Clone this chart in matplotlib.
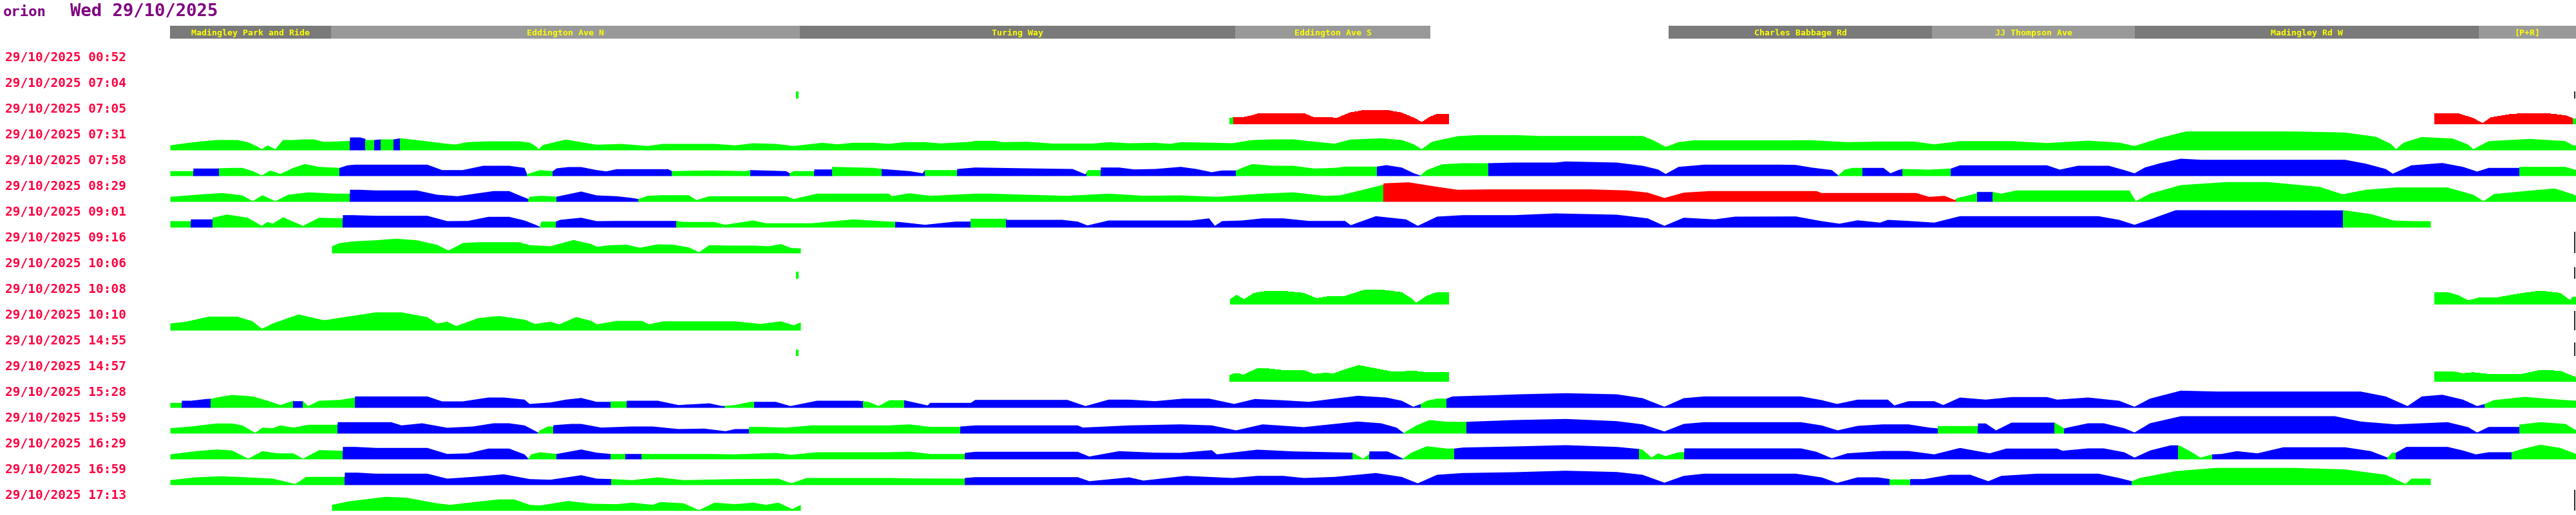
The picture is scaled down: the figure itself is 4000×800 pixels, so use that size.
import numpy as np
import matplotlib.pyplot as plt
from matplotlib.patches import Rectangle

nan = np.nan

title_name = 'orion'
title_day = 'Wed 29/10/2025'

# road sections along the route (distance units, 0 = start of the route)
seg_names = ['Madingley Park and Ride', 'Eddington Ave N', 'Turing Way', 'Eddington Ave S',
             'Charles Babbage Rd', 'JJ Thompson Ave', 'Madingley Rd W', '[P+R]']
seg_start = [0, 250, 978, 1654, 2327, 2736, 3051, 3585]
seg_end = [250, 978, 1654, 1957, 2736, 3051, 3585, 3736]
route_len = 3736

run_times = ['29/10/2025 00:52', '29/10/2025 07:04', '29/10/2025 07:05', '29/10/2025 07:31',
             '29/10/2025 07:58', '29/10/2025 08:29', '29/10/2025 09:01', '29/10/2025 09:16',
             '29/10/2025 10:06', '29/10/2025 10:08', '29/10/2025 10:10', '29/10/2025 14:55',
             '29/10/2025 14:57', '29/10/2025 15:28', '29/10/2025 15:59', '29/10/2025 16:29',
             '29/10/2025 16:59', '29/10/2025 17:13']

# speed profile of each run: (distance, speed) samples, and coloured runs (start, end, status)
p_0052 = []
r_0052 = []

p_0704 = [(972, 11), (976, 11)]
r_0704 = [(972, 976, 'g')]

p_0705 = [(1645, 9.3), (1651, 10.3), (1665, 10.3), (1680, 13.3), (1692, 17), (1760, 17), (1776, 10.3),
          (1784, 10.7), (1800, 10.7), (1812, 9.3), (1832, 17.7), (1856, 22), (1888, 22), (1912, 17.7),
          (1932, 9.3), (1944, 2.7), (1956, 11), (1968, 15.7), (1986, 15.7), (2500, nan),
          (3516, 16.7), (3552, 16.7), (3576, 9.3), (3591, 1), (3604, 10.3), (3632, 15), (3656, 17),
          (3688, 17), (3720, 13.3), (3731, 9), (3736, 9)]
r_0705 = [(1645, 1651, 'g'), (1651, 1986, 'r'), (3516, 3731, 'r'), (3731, 3736, 'g')]

p_0731 = [(0, 7.7), (16, 10), (40, 13), (72, 16), (104, 16), (120, 12.7), (135, 6), (142, 1.7), (151, 7.7),
          (163, 1.7), (175, 16), (191, 16), (207, 17), (223, 17), (239, 13), (263, 14), (279, 14.7),
          (279, 20), (295, 20), (303, 17.7), (303, 16), (317, 16), (327, 17), (347, 17), (357, 18.7),
          (399, 14), (422, 11), (442, 9), (462, 12.7), (494, 14), (542, 14), (558, 12), (568, 6),
          (572, 1.7), (578, 8), (590, 11), (614, 16.7), (638, 12.7), (662, 8.7), (701, 10), (741, 6.7),
          (765, 10), (845, 10), (877, 7.7), (905, 11), (940, 10), (968, 6.7), (1012, 11.7), (1036, 9.3),
          (1060, 11.7), (1092, 11.7), (1116, 10), (1140, 12.7), (1172, 12.7), (1196, 10.7), (1243, 13.3),
          (1250, 14.7), (1282, 14.7), (1290, 12.7), (1330, 13.3), (1370, 10.5), (1433, 10.5), (1457, 12.7),
          (1489, 11), (1529, 11.7), (1553, 10), (1569, 12.7), (1609, 12), (1649, 11), (1680, 16),
          (1712, 17), (1744, 17), (1768, 14.3), (1808, 10.3), (1832, 16.7), (1880, 18.7), (1912, 16),
          (1931, 9.3), (1943, 1.7), (1959, 13.3), (1999, 22), (2031, 23.7), (2087, 23.7), (2127, 22.3),
          (2286, 22.3), (2302, 16), (2322, 5.3), (2342, 12.7), (2366, 15.5), (2500, 15.5), (2548, 15.7),
          (2604, 12.7), (2659, 13.7), (2707, 13.7), (2739, 9.3), (2779, 14.3), (2859, 14.3), (2914, 11.3),
          (2978, 15), (3026, 12), (3050, 6.7), (3090, 19.3), (3130, 29.3), (3297, 29.3), (3377, 27.7),
          (3425, 21), (3448, 10), (3456, 1.7), (3468, 12), (3496, 20.7), (3544, 18.3), (3568, 9),
          (3576, 1.7), (3600, 14.3), (3664, 17.7), (3719, 14.3), (3731, 7.7), (3736, 7.7)]
r_0731 = [(0, 279, 'g'), (279, 303, 'b'), (303, 317, 'g'), (317, 327, 'b'), (327, 347, 'g'),
          (347, 357, 'b'), (357, 3736, 'g')]

p_0758 = [(0, 7.7), (36, 7.7), (36, 11.7), (76, 11.7), (76, 12), (96, 12.7), (112, 12.7), (128, 7.7),
          (142, 1), (155, 8.7), (171, 3.3), (191, 12.7), (209, 18.7), (231, 14.3), (263, 12.7), (275, 16.7),
          (287, 17.7), (399, 17.7), (422, 9.3), (454, 9.3), (486, 16), (526, 16), (550, 12.7), (554, 2.7),
          (558, 4.3), (574, 9.3), (594, 7.7), (600, 12), (618, 14), (638, 14), (662, 9.3), (677, 7.3),
          (693, 10.7), (773, 10.7), (779, 7.7), (837, 8.7), (893, 7.7), (901, 9.3), (956, 7.7), (962, 4.3),
          (968, 7.7), (1000, 7.7), (1000, 10.3), (1028, 10.3), (1028, 14.3), (1092, 12.7), (1105, 11),
          (1148, 7.7), (1168, 4.3), (1172, 9.3), (1222, 9.3), (1222, 11), (1250, 13.3), (1330, 12),
          (1401, 11), (1421, 2.7), (1425, 9.3), (1445, 9.3), (1445, 13.3), (1473, 13.3), (1497, 10.3),
          (1529, 11), (1569, 14.3), (1593, 11), (1617, 6), (1633, 8.7), (1655, 8.7), (1664, 12.7),
          (1680, 18.7), (1712, 16), (1744, 16), (1776, 11.7), (1808, 12.7), (1824, 14.7), (1874, 14.7),
          (1888, 17), (1912, 13.3), (1931, 4.3), (1941, 1), (1951, 9.3), (1975, 18.3), (2007, 20),
          (2047, 20), (2087, 21), (2151, 21), (2167, 22.7), (2246, 21), (2286, 16), (2310, 10.3),
          (2322, 3.3), (2342, 14.3), (2382, 17.7), (2500, 17.7), (2524, 17.3), (2548, 13.3), (2580, 9.3),
          (2590, 1), (2600, 10), (2612, 12.7), (2660, 12.7), (2671, 4.3), (2683, 9.3), (2690, 11),
          (2731, 10), (2765, 11.7), (2779, 16.7), (2914, 16.7), (2934, 10), (2962, 16), (3010, 16),
          (3034, 9.3), (3050, 4.3), (3066, 13.3), (3090, 20), (3122, 27), (3154, 25.3), (3377, 25.3),
          (3409, 19.3), (3440, 11), (3451, 3.7), (3480, 16.7), (3528, 20.3), (3560, 14.3), (3582, 7),
          (3600, 12.7), (3648, 12.7), (3648, 14.3), (3719, 14.3), (3736, 9.3)]
r_0758 = [(0, 36, 'g'), (36, 76, 'b'), (76, 263, 'g'), (263, 554, 'b'), (554, 594, 'g'), (594, 779, 'b'),
          (779, 901, 'g'), (901, 962, 'b'), (962, 1000, 'g'), (1000, 1028, 'b'), (1028, 1105, 'g'),
          (1105, 1172, 'b'), (1172, 1222, 'g'), (1222, 1423, 'b'), (1423, 1445, 'g'), (1445, 1655, 'b'),
          (1655, 1874, 'g'), (1874, 1941, 'b'), (1941, 2047, 'g'), (2047, 2590, 'b'), (2590, 2628, 'g'),
          (2628, 2690, 'b'), (2690, 2765, 'g'), (2765, 3648, 'b'), (3648, 3736, 'g')]

p_0829 = [(0, 7.7), (40, 11), (80, 13.7), (112, 10), (128, 1), (143, 10.3), (163, 1), (183, 11), (215, 14.7),
          (255, 12.7), (279, 12.7), (279, 18.7), (295, 18.7), (319, 17.7), (383, 17.7), (414, 11),
          (446, 8.7), (478, 13.3), (502, 16.7), (526, 16.7), (542, 10), (556, 4.3), (558, 7.7), (574, 9.3),
          (590, 8.7), (600, 8), (638, 16), (662, 10), (693, 8.7), (717, 6), (727, 4.3), (741, 9.3),
          (765, 10.3), (805, 10.3), (817, 2.7), (837, 8.7), (956, 8.7), (968, 4.3), (1004, 12.7),
          (1116, 12.7), (1120, 8.7), (1148, 13.3), (1180, 9.3), (1250, 12.7), (1274, 12.7), (1330, 11),
          (1393, 9.3), (1457, 12.7), (1513, 9.3), (1569, 10), (1625, 7.7), (1696, 12.7), (1744, 14.7),
          (1792, 9.3), (1816, 10), (1848, 17.7), (1884, 26.7), (1884, 28.7), (1923, 30.3), (1967, 23.3),
          (1999, 18.7), (2047, 19.3), (2206, 19.3), (2262, 17.7), (2294, 14.3), (2320, 6), (2350, 14.3),
          (2390, 16.7), (2556, 16.7), (2564, 13.7), (2711, 13.7), (2731, 7.7), (2755, 9.3), (2771, 2.7),
          (2775, 6), (2783, 7.7), (2803, 12.7), (2806, 15.3), (2830, 15.3), (2843, 12.7), (2867, 17.7),
          (3042, 17.7), (3052, 1), (3074, 12.7), (3122, 26), (3193, 30.7), (3257, 30.7), (3337, 23.3),
          (3373, 11.7), (3409, 18.7), (3456, 22.3), (3536, 22.3), (3576, 11), (3592, 1), (3608, 12),
          (3656, 16.7), (3703, 20.7), (3733, 11), (3736, 9)]
r_0829 = [(0, 279, 'g'), (279, 556, 'b'), (556, 600, 'g'), (600, 727, 'b'), (727, 1884, 'g'),
          (1884, 2773, 'r'), (2773, 2806, 'g'), (2806, 2830, 'b'), (2830, 3736, 'g')]

p_0901 = [(0, 10), (32, 10), (32, 12.7), (66, 12.7), (66, 15.3), (88, 20.3), (120, 15.3), (142, 2.7),
          (151, 8.7), (159, 6), (175, 16), (206, 2.7), (231, 15.3), (268, 14.3), (268, 19.3), (283, 19.3),
          (319, 18.3), (399, 18.3), (430, 10), (462, 10.3), (494, 16.7), (526, 16.7), (550, 11), (568, 4),
          (574, 1), (576, 9.3), (599, 9.3), (605, 12), (638, 15.3), (662, 10), (693, 10.3), (786, 10.3),
          (797, 8.7), (845, 8.7), (861, 4.3), (905, 11), (925, 6.7), (996, 6.7), (1060, 12.7), (1116, 9.3),
          (1132, 8.7), (1172, 4.3), (1219, 9.3), (1243, 9.3), (1243, 13.7), (1298, 13.7), (1298, 12),
          (1385, 12), (1409, 9.3), (1424, 3.3), (1457, 11), (1585, 11), (1613, 14.3), (1622, 2.7),
          (1633, 10), (1664, 11), (1696, 14.3), (1728, 14.3), (1768, 10.3), (1824, 10.3), (1833, 3.7),
          (1872, 17.7), (1919, 12.7), (1937, 2.7), (1967, 17), (2007, 19.3), (2087, 19.3), (2151, 22),
          (2246, 20), (2294, 14.3), (2320, 2.7), (2350, 15.3), (2398, 12.7), (2430, 17), (2524, 17.3),
          (2564, 10), (2592, 6), (2620, 11.3), (2655, 7.7), (2667, 12), (2699, 10.3), (2739, 7.7),
          (2779, 17.7), (2994, 17.7), (3026, 12), (3050, 4.3), (3074, 12.7), (3114, 27), (3377, 26.7),
          (3417, 21), (3452, 11), (3480, 10), (3510, 10)]
r_0901 = [(0, 32, 'g'), (32, 66, 'b'), (66, 268, 'g'), (268, 574, 'b'), (574, 599, 'g'), (599, 786, 'b'),
          (786, 1126, 'g'), (1126, 1243, 'b'), (1243, 1298, 'g'), (1298, 3374, 'b'), (3374, 3510, 'g')]

p_0916 = [(251, 11), (263, 16), (287, 18.7), (319, 20.3), (351, 22.7), (383, 20.3), (414, 13.3), (432, 4.3),
          (454, 16), (478, 17.3), (542, 17.3), (558, 12.7), (590, 11), (626, 20.7), (654, 14.3),
          (662, 10.3), (685, 12.7), (709, 13.3), (729, 8.7), (757, 14), (781, 13.3), (805, 9.3), (821, 1.7),
          (837, 12.7), (869, 12), (909, 12), (929, 11), (948, 14.3), (964, 8.3), (979, 7.7)]
r_0916 = [(251, 979, 'g')]

p_1006 = [(972, 11), (976, 11)]
r_1006 = [(972, 976, 'g')]

p_1008 = [(1646, 7.7), (1656, 14.3), (1668, 7.7), (1684, 17.7), (1704, 20.7), (1728, 20.7), (1760, 17.7),
          (1780, 9.3), (1800, 12.7), (1824, 12.7), (1856, 22.7), (1880, 22.7), (1912, 18.7), (1927, 9.3),
          (1935, 2), (1951, 12.7), (1967, 18.7), (1986, 18.7), (2500, nan), (3516, 18.7), (3536, 18.7),
          (3552, 14.3), (3568, 6), (3588, 11), (3616, 11), (3648, 16.7), (3680, 21), (3711, 17.7),
          (3727, 6), (3731, 11.7), (3736, 11.7)]
r_1008 = [(1646, 1986, 'g'), (3516, 3736, 'g')]

p_1010 = [(0, 11), (24, 13.7), (60, 21.7), (104, 21.7), (128, 14.3), (142, 2.7), (159, 11), (199, 25),
          (239, 16), (271, 21), (319, 28.3), (359, 28.3), (399, 21), (414, 11), (430, 13.7), (444, 7),
          (478, 19.3), (510, 22.7), (550, 17), (566, 10.3), (590, 13.7), (604, 9.7), (630, 21), (654, 15),
          (662, 9.7), (693, 15), (733, 15), (743, 9.7), (765, 14.3), (877, 14.3), (917, 10.3), (948, 14.3),
          (968, 8.3), (979, 12.7)]
r_1010 = [(0, 979, 'g')]

p_1455 = [(972, 10), (976, 10)]
r_1455 = [(972, 976, 'g')]

p_1457 = [(1645, 9.3), (1652, 12.7), (1660, 12.7), (1666, 10), (1688, 20.3), (1704, 20.3), (1728, 17.7),
          (1760, 17.7), (1776, 11.7), (1792, 13.3), (1808, 12.7), (1824, 18.7), (1846, 25.3), (1872, 20.3),
          (1900, 15), (1931, 16.7), (1951, 14.3), (1986, 14.3), (2500, nan), (3516, 16), (3544, 16),
          (3560, 12.7), (3576, 14.3), (3600, 11.7), (3652, 11.7), (3680, 17.7), (3711, 16.7), (3733, 7.7),
          (3736, 6)]
r_1457 = [(1645, 1986, 'g'), (3516, 3736, 'g')]

p_1528 = [(0, 7.7), (18, 7.7), (18, 11), (32, 11), (56, 13.7), (63, 14), (72, 16), (96, 20), (128, 17.7),
          (151, 11), (171, 4.3), (191, 11), (191, 10.3), (206, 10.3), (214, 2.7), (231, 11), (263, 12.3),
          (287, 16), (287, 17.7), (399, 17.7), (422, 10), (454, 10), (494, 16), (518, 16), (550, 12.7),
          (558, 6), (590, 8.3), (614, 12.7), (638, 15.3), (662, 9.3), (684, 9.3), (684, 10), (709, 10),
          (709, 11), (757, 11), (789, 4.3), (837, 7), (857, 2.7), (877, 4.3), (901, 9.3), (940, 9.3),
          (963, 2.7), (1004, 11), (1068, 11), (1084, 9.3), (1100, 2.7), (1116, 11.7), (1140, 11.7),
          (1176, 3.7), (1180, 7.7), (1243, 7.7), (1250, 12.3), (1393, 12.3), (1421, 2.7), (1457, 12.7),
          (1489, 12.7), (1529, 10.3), (1573, 14.3), (1613, 14.3), (1652, 6), (1684, 13.7), (1728, 11.7),
          (1768, 9.3), (1808, 14.3), (1844, 18.7), (1888, 16), (1912, 11), (1930, 1.7), (1942, 6),
          (1951, 11), (1967, 14.3), (1982, 14.3), (1991, 17.7), (2047, 19.3), (2095, 21), (2167, 22.7),
          (2246, 21), (2286, 15), (2320, 1.7), (2350, 15), (2382, 17.7), (2532, 17.7), (2564, 12),
          (2588, 6), (2620, 12.7), (2667, 12.7), (2677, 3.7), (2699, 10.3), (2739, 10.3), (2753, 4.3),
          (2779, 16), (2819, 12.7), (2859, 16.7), (2914, 16.7), (2930, 12.7), (2978, 16), (3026, 11),
          (3050, 1.7), (3074, 14.3), (3122, 26.7), (3177, 25.3), (3401, 25.3), (3440, 17.7), (3474, 2.7),
          (3496, 17.7), (3528, 20.3), (3560, 12.7), (3582, 2.7), (3594, 6), (3608, 12), (3656, 17),
          (3696, 13.7), (3736, 11)]
r_1528 = [(0, 18, 'g'), (18, 63, 'b'), (63, 191, 'g'), (191, 206, 'b'), (206, 287, 'g'), (287, 684, 'b'),
          (684, 709, 'g'), (709, 861, 'b'), (861, 907, 'g'), (907, 1076, 'b'), (1076, 1140, 'g'),
          (1140, 1942, 'b'), (1942, 1982, 'g'), (1982, 3594, 'b'), (3594, 3736, 'g')]

p_1559 = [(0, 8.3), (32, 11), (72, 15.7), (96, 15.7), (112, 12.7), (132, 1), (143, 9.3), (159, 8.3),
          (171, 12.7), (191, 9.3), (215, 13.7), (260, 13.7), (260, 17.7), (343, 17.7), (359, 12.7),
          (391, 16), (430, 9), (470, 11), (502, 16), (526, 16), (550, 12.7), (571, 1.7), (574, 5), (586, 11),
          (595, 11), (595, 13), (622, 15), (638, 15), (669, 9.3), (717, 11), (749, 11), (789, 7),
          (829, 7.7), (862, 3.7), (877, 7), (899, 7), (899, 10.3), (917, 10.3), (956, 9.3), (996, 12.7),
          (1116, 12.7), (1148, 14.3), (1180, 10.3), (1227, 10.3), (1227, 11), (1250, 12.7), (1409, 12.7),
          (1417, 9.3), (1489, 12.7), (1569, 14.3), (1617, 12.7), (1655, 5), (1696, 14.3), (1760, 10),
          (1808, 15), (1844, 18.7), (1880, 16), (1904, 9.3), (1915, 1), (1935, 12.7), (1955, 21),
          (1983, 18.3), (2013, 18.3), (2087, 21), (2167, 22.7), (2246, 19.3), (2286, 14.3), (2320, 3.3),
          (2350, 15), (2382, 17.7), (2532, 17.7), (2564, 12.7), (2589, 5), (2620, 12), (2659, 14.3),
          (2699, 14.3), (2731, 9.3), (2745, 8), (2745, 11.7), (2807, 11.7), (2807, 15.7), (2819, 15.7),
          (2835, 5), (2859, 17), (2926, 17), (2941, 8), (2946, 9.3), (2978, 16), (3002, 16), (3034, 8.3),
          (3050, 1.7), (3074, 16), (3122, 27), (3361, 27), (3401, 18.7), (3456, 14.3), (3536, 17.7),
          (3568, 10), (3582, 1.7), (3600, 10.3), (3648, 10.3), (3648, 14), (3680, 17.7), (3719, 15),
          (3736, 5)]
r_1559 = [(0, 260, 'g'), (260, 571, 'b'), (571, 595, 'g'), (595, 899, 'b'), (899, 1227, 'g'),
          (1227, 1915, 'b'), (1915, 2013, 'g'), (2013, 2745, 'b'), (2745, 2807, 'g'), (2807, 2926, 'b'),
          (2926, 2941, 'g'), (2941, 3648, 'b'), (3648, 3736, 'g')]

p_1629 = [(0, 7.7), (40, 12.7), (72, 15.3), (96, 13.7), (121, 1), (143, 12.7), (167, 9.3), (191, 9.3),
          (206, 1), (231, 14.3), (268, 13.3), (268, 19.3), (287, 19.3), (319, 17.7), (399, 17.7),
          (430, 8.3), (462, 9.3), (494, 16.7), (526, 16.7), (550, 7.7), (556, 1), (560, 7.7), (574, 11),
          (600, 8.3), (638, 15.3), (662, 10.3), (684, 8.3), (837, 8.3), (877, 7.7), (940, 10), (964, 7),
          (1004, 11), (1116, 11), (1148, 12), (1180, 8.3), (1234, 8.3), (1234, 10), (1250, 11.7),
          (1409, 11.7), (1427, 4.3), (1473, 12.7), (1529, 10.3), (1569, 10), (1617, 14.3), (1625, 7.7),
          (1688, 15), (1744, 12.3), (1836, 10.3), (1852, 1), (1862, 8.3), (1862, 12.3), (1890, 12.3),
          (1904, 6), (1914, 1), (1927, 10.3), (1951, 20.3), (1983, 16.7), (1994, 16.7), (2007, 18.3),
          (2087, 20), (2167, 22), (2246, 19.3), (2281, 16), (2286, 15), (2300, 2.7), (2310, 9.3), (2322, 5),
          (2342, 11), (2351, 11), (2351, 17), (2532, 17), (2556, 11.7), (2580, 1.7), (2604, 9.3),
          (2659, 13), (2699, 13), (2739, 7.7), (2779, 17.7), (2825, 9.3), (2851, 16.7), (2930, 16.7),
          (2938, 13.3), (2978, 17), (3002, 17), (3034, 11), (3050, 2.7), (3074, 13.7), (3106, 21.7),
          (3118, 21.7), (3122, 20.3), (3138, 11.7), (3152, 2.7), (3171, 7.7), (3185, 8.3), (3209, 12.7),
          (3241, 9.3), (3281, 18.7), (3377, 18.7), (3417, 12.7), (3443, 2.7), (3450, 10.3), (3456, 10.3),
          (3472, 19.3), (3536, 19.3), (3560, 13.7), (3580, 7.7), (3600, 11), (3636, 11), (3648, 15),
          (3680, 22.7), (3711, 17.7), (3736, 8.3)]
r_1629 = [(0, 268, 'g'), (268, 556, 'b'), (556, 600, 'g'), (600, 684, 'b'), (684, 707, 'g'),
          (707, 732, 'b'), (732, 1234, 'g'), (1234, 1836, 'b'), (1836, 1862, 'g'), (1862, 1914, 'b'),
          (1914, 1994, 'g'), (1994, 2281, 'b'), (2281, 2351, 'g'), (2351, 3118, 'b'), (3118, 3171, 'g'),
          (3171, 3443, 'b'), (3443, 3456, 'g'), (3456, 3636, 'b'), (3636, 3736, 'g')]

p_1659 = [(0, 7.7), (40, 12), (80, 13.7), (120, 12), (159, 10), (194, 1.7), (211, 12.7), (271, 12.7),
          (271, 19.3), (291, 19.3), (319, 17.7), (399, 17.7), (430, 10), (470, 12.7), (518, 16.7),
          (558, 9.3), (590, 8.3), (638, 15.3), (662, 10), (685, 9.3), (717, 7.7), (757, 12), (797, 7.7),
          (877, 9.3), (944, 10), (964, 2.7), (988, 11), (1116, 11), (1156, 10.3), (1234, 10), (1234, 11),
          (1250, 12.3), (1409, 12.3), (1427, 6), (1489, 12), (1511, 7), (1577, 14.3), (1649, 11),
          (1688, 14.3), (1728, 14.3), (1760, 11), (1808, 12.7), (1872, 18.7), (1912, 12.7), (1937, 2.7),
          (1967, 16), (2007, 18.7), (2087, 20), (2167, 22.3), (2246, 20.3), (2286, 16), (2320, 3.7),
          (2350, 14.3), (2382, 17.7), (2524, 17.7), (2564, 12), (2588, 3.3), (2620, 12), (2651, 12),
          (2670, 9.3), (2670, 8.7), (2702, 8.7), (2702, 9.3), (2723, 9.3), (2763, 16), (2795, 16),
          (2823, 6), (2843, 14.3), (2899, 17.7), (2994, 17.7), (3026, 11), (3046, 6), (3058, 11),
          (3114, 21.7), (3177, 26.7), (3297, 26.7), (3377, 24.3), (3440, 16), (3471, 1.7), (3480, 10),
          (3510, 10)]
r_1659 = [(0, 271, 'g'), (271, 685, 'b'), (685, 1234, 'g'), (1234, 2670, 'b'), (2670, 2702, 'g'),
          (2702, 3046, 'b'), (3046, 3510, 'g')]

p_1713 = [(251, 9.3), (279, 15), (335, 21.7), (367, 20.3), (414, 11.7), (434, 9.3), (478, 14.3),
          (510, 17.7), (534, 17.7), (558, 9.3), (574, 8.3), (618, 15.3), (654, 11), (693, 10.3),
          (717, 12.7), (749, 9.3), (761, 13.7), (797, 11.7), (821, 1), (845, 12.7), (877, 10.3),
          (905, 12.7), (925, 9.3), (944, 12.7), (966, 2.7), (979, 9.3)]
r_1713 = [(251, 979, 'g')]

profiles = [p_0052, p_0704, p_0705, p_0731, p_0758, p_0829, p_0901, p_0916, p_1006,
            p_1008, p_1010, p_1455, p_1457, p_1528, p_1559, p_1629, p_1659, p_1713]
runs = [r_0052, r_0704, r_0705, r_0731, r_0758, r_0829, r_0901, r_0916, r_1006,
        r_1008, r_1010, r_1455, r_1457, r_1528, r_1559, r_1629, r_1659, r_1713]

# short end-of-route markers on unfinished runs
edge_times = ['29/10/2025 07:04', '29/10/2025 09:16', '29/10/2025 10:06', '29/10/2025 10:10',
              '29/10/2025 14:55', '29/10/2025 17:13']
edge_h = [11, 33, 18, 30, 21, 32]

colours = {'g': '#00ff00', 'b': '#0000ff', 'r': '#ff0000'}

W, H = 4000, 800
X0 = 264
mono = 'DejaVu Sans Mono'

fig = plt.figure(figsize=(W / 100, H / 100), dpi=100)


def fx(x):
    return x / W


def fy(y):
    return 1 - y / H


fig.text(fx(5), fy(25), title_name, color='#800080', fontsize=16, family=mono, weight='bold')
fig.text(fx(109), fy(25), title_day, color='#800080', fontsize=19.6, family=mono, weight='bold')

# road section header
hx = fig.add_axes([fx(X0), fy(60), (W - X0) / W, 20 / H])
hx.set_xlim(0, route_len)
hx.set_ylim(0, 1)
hx.axis('off')
for i, (name, s, e) in enumerate(zip(seg_names, seg_start, seg_end)):
    hx.barh(0.5, e - s, left=s, height=1, color='#7a7a7a' if i % 2 == 0 else '#999999', lw=0)
    hx.text((s + e) / 2, 0.25, name, ha='center', va='baseline', color='#ffff00',
            fontsize=9.5, family=mono, weight='bold')

# one strip per run
for i, (label, prof, segs) in enumerate(zip(run_times, profiles, runs)):
    base = 113 + 40 * i
    fig.text(fx(8), fy(base - 18), label, color='#ff0040', fontsize=14, family=mono, weight='bold')
    ax = fig.add_axes([fx(X0), fy(base), (W - X0) / W, 40 / H])
    ax.set_xlim(0, route_len)
    ax.set_ylim(0, 40)
    ax.axis('off')
    if prof:
        d, h = np.array(prof, dtype=float).T
        for s, e, c in segs:
            band = ax.fill_between(d, 0, h, color=colours[c], lw=0, antialiased=False)
            band.set_clip_path(Rectangle((s, 0), e - s, 40, transform=ax.transData))
    if label in edge_times:
        ax.vlines(route_len - 2, 0, edge_h[edge_times.index(label)], color='#000000', lw=1.2)

fig.savefig('out.png', dpi=100)
